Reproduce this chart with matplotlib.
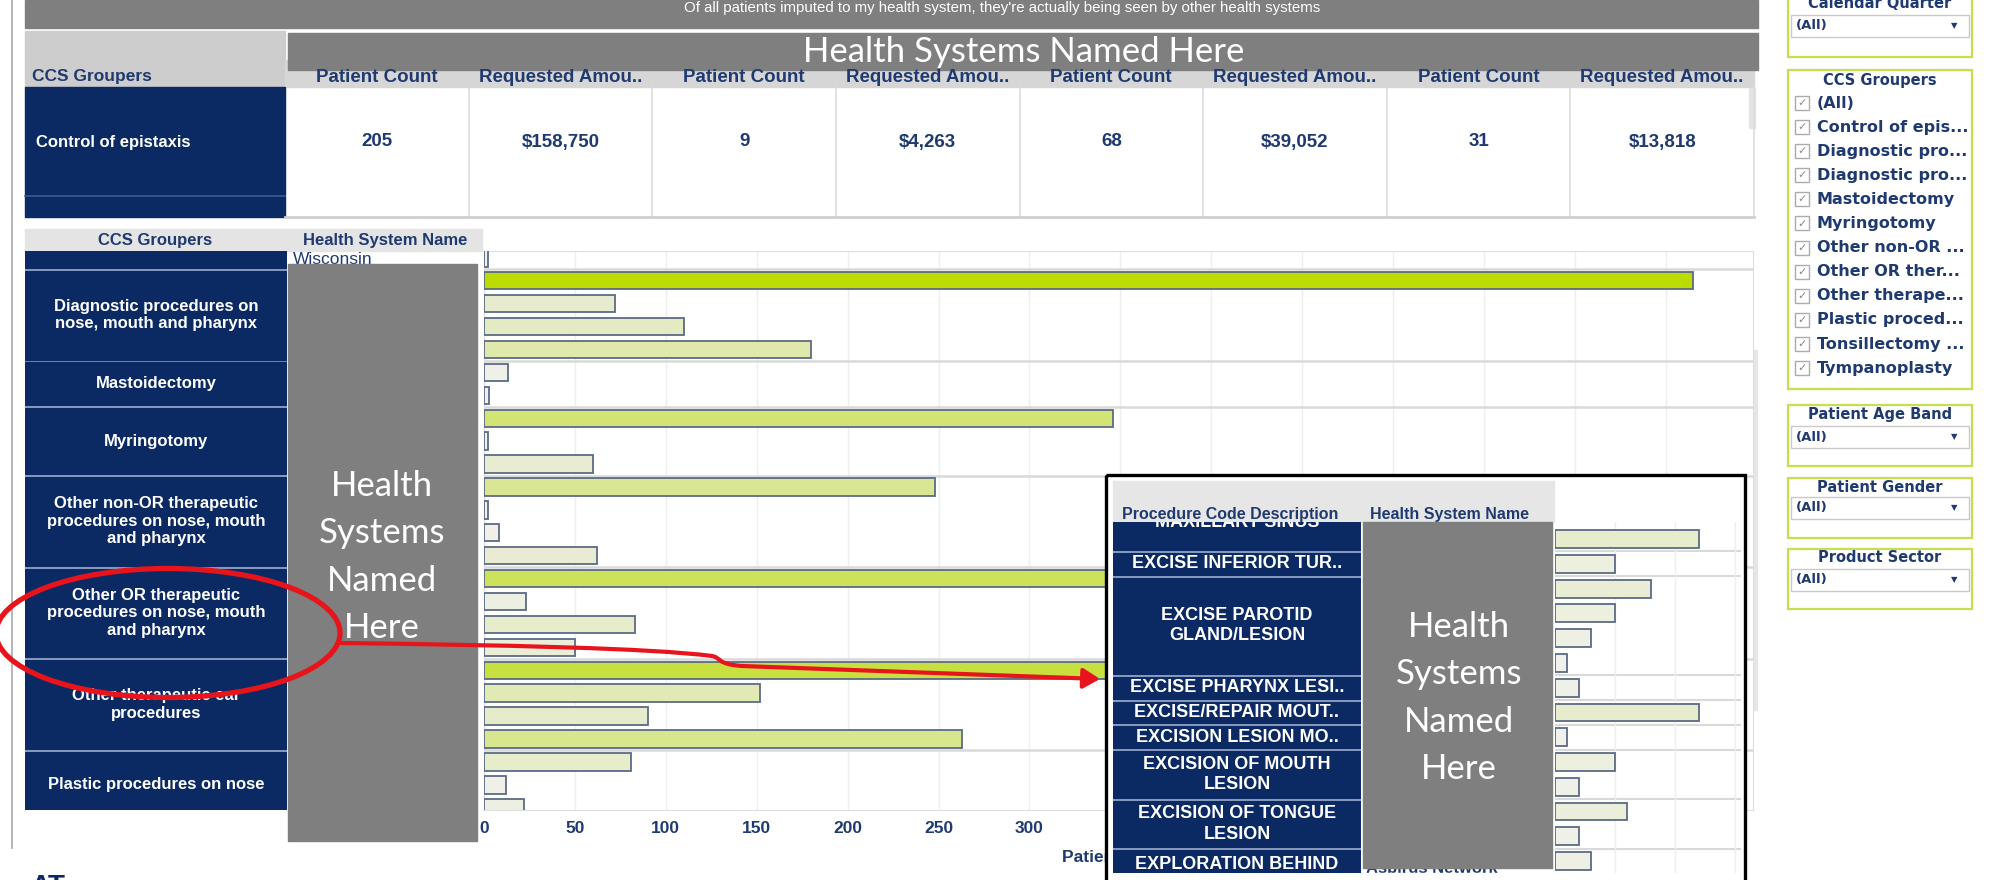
import numpy as np
import matplotlib
matplotlib.use("Agg")
import matplotlib.pyplot as plt
from matplotlib import font_manager
from matplotlib.patches import Rectangle, Ellipse, FancyArrowPatch
from matplotlib.path import Path
from matplotlib.colors import LinearSegmentedColormap, Normalize

W, H = 1998, 880

banner_text = "Of all patients imputed to my health system, they're actually being seen by other health systems"
overlay_text = "Health Systems Named Here"

# top summary table
top_group = "Control of epistaxis"
top_headers = ["Patient Count", "Requested Amou.."] * 4
top_patients = [205, 9, 68, 31]
top_amounts = [158750, 4263, 39052, 13818]

# main bar chart (only the tail of the first group is visible, so no label)
ccs_labels = ["", "Diagnostic procedures on\nnose, mouth and pharynx", "Mastoidectomy", "Myringotomy",
              "Other non-OR therapeutic\nprocedures on nose, mouth\nand pharynx",
              "Other OR therapeutic\nprocedures on nose, mouth\nand pharynx",
              "Other therapeutic ear\nprocedures", "Plastic procedures on nose"]
patient_counts = [[2], [665, 72, 110, 180], [13, 3], [346, 2, 60], [248, 2, 8, 62],
                  [420, 23, 83, 50], [500, 152, 90, 263], [81, 12, 22]]
x_ticks_shown = [0, 50, 100, 150, 200, 250, 300]
first_hs = "Wisconsin"

# zoomed procedure view
proc_labels = ["MAXILLARY SINUS", "EXCISE INFERIOR TUR..", "EXCISE PAROTID\nGLAND/LESION",
               "EXCISE PHARYNX LESI..", "EXCISE/REPAIR MOUT..", "EXCISION LESION MO..",
               "EXCISION OF MOUTH\nLESION", "EXCISION OF TONGUE\nLESION", "EXPLORATION BEHIND"]
proc_counts = [[12], [5], [8, 5, 3, 1], [2], [12], [1], [5, 2], [6, 2], [3]]
proc_hs_last = "Aspirus Network"

# filters
filter_titles = ["Calendar Quarter", "CCS Groupers", "Patient Age Band", "Patient Gender", "Product Sector"]
ccs_filter_items = ["(All)", "Control of epis...", "Diagnostic pro...", "Diagnostic pro...", "Mastoidectomy",
                    "Myringotomy", "Other non-OR ...", "Other OR ther...", "Other therape...",
                    "Plastic proced...", "Tonsillectomy ...", "Tympanoplasty"]

NAVY = "#0b2a63"
TXT = "#1f3a70"
GRAY = "#7f7f7f"
plt.rcParams["font.family"] = "Liberation Sans"
installed = {f.name for f in font_manager.fontManager.ttflist}
NARROW = "Liberation Sans Narrow" if "Liberation Sans Narrow" in installed else "Liberation Sans"
banner_size = 13 if NARROW != "Liberation Sans" else 10.8

cmap = LinearSegmentedColormap.from_list(
    "bars", [(0, "#f1f1ec"), (0.1, "#e8ecd0"), (0.3, "#dde8a6"), (0.5, "#d3e478"),
             (0.75, "#c8e040"), (1, "#bcdc00")])

fig = plt.figure(figsize=(W / 100, H / 100), dpi=100, facecolor="white")


def px_axes(x0, y0, x1, y1, **kw):
    return fig.add_axes([x0 / W, 1 - y1 / H, (x1 - x0) / W, (y1 - y0) / H], **kw)


ax_bg = fig.add_axes([0, 0, 1, 1], zorder=0)
ax_bg.set_xlim(0, W)
ax_bg.set_ylim(H, 0)
ax_bg.axis("off")

# left frame line and logo scrap at the bottom
ax_bg.plot([12, 12], [0, 848], color="#a9a9a9", lw=1.2)
ax_bg.text(30, 874, "AT", ha="left", va="top", fontsize=20, fontweight="bold", color=NAVY)

# banner
ax_bg.add_patch(Rectangle((25, 0), 1733, 28, color=GRAY))
ax_bg.text(1002, 12, banner_text, ha="center", va="baseline", fontsize=banner_size, color="white",
           family=NARROW)

# top table
ax_bg.add_patch(Rectangle((25, 31), 260, 56, color="#cdcdcd"))
ax_bg.add_patch(Rectangle((285, 60), 1469, 27, color="#d6d6d6"))
ax_bg.add_patch(Rectangle((288, 33), 1470, 37, color=GRAY))
ax_bg.text(1024, 52, overlay_text, ha="center", va="center", fontsize=25, color="white", family="Lato")
ax_bg.text(32, 77, "CCS Groupers", ha="left", va="center", fontsize=12.5, fontweight="bold", color=TXT)
edges = np.linspace(285, 1754, 9)
for i, h in enumerate(top_headers):
    ax_bg.text((edges[i] + edges[i + 1]) / 2, 77, h, ha="center", va="center",
               fontsize=13.5, fontweight="bold", color=TXT)
ax_bg.add_patch(Rectangle((25, 87), 260, 130, color=NAVY))
ax_bg.plot([25, 285], [196, 196], color="#3d5c93", lw=1.2)
ax_bg.text(36, 142, top_group, ha="left", va="center", fontsize=12, fontweight="bold", color="white")
for e in edges[1:]:
    ax_bg.plot([e, e], [87, 217], color="#dcdcdc", lw=1.2)
ax_bg.plot([285, 1754], [217, 217], color="#cfcfcf", lw=2)
cells = []
for p, a in zip(top_patients, top_amounts):
    cells += [f"{p:,}", f"${a:,}"]
for i, c in enumerate(cells):
    ax_bg.text((edges[i] + edges[i + 1]) / 2, 142, c, ha="center", va="center",
               fontsize=13.5, fontweight="bold", color=TXT)
ax_bg.add_patch(Rectangle((1749, 88), 6, 40, color="#e3e3e3"))

# second section header
ax_bg.add_patch(Rectangle((25, 229), 457, 22, color="#e4e4e4"))
ax_bg.text(155, 241, "CCS Groupers", ha="center", va="center", fontsize=12, fontweight="bold", color=TXT)
ax_bg.text(385, 241, "Health System Name", ha="center", va="center", fontsize=12, fontweight="bold", color=TXT)
ax_bg.text(293, 259, first_hs, ha="left", va="center", fontsize=12.5, color=TXT)
ax_bg.add_patch(Rectangle((1751, 350), 6, 360, color="#e6e6e6"))

# filter panel
px0, px1 = 1788, 1972
boxes = [(-5, 57), (70, 389), (405, 466), (478, 538), (549, 609)]
title_y = [3, 80, 415, 487, 558]
drop_y = {0: 26, 2: 437, 3: 508, 4: 580}
for k, (b0, b1) in enumerate(boxes):
    ax_bg.add_patch(Rectangle((px0, b0), px1 - px0, b1 - b0, fc="white", ec="#c5df4f", lw=1.6))
    ax_bg.text((px0 + px1) / 2, title_y[k], filter_titles[k], ha="center", va="center",
               fontsize=10.5, fontweight="bold", color=TXT, family="DejaVu Sans")
    if k in drop_y:
        yc = drop_y[k]
        ax_bg.add_patch(Rectangle((px0 + 3, yc - 11), px1 - px0 - 6, 22, fc="white", ec="#c9c9c9", lw=1))
        ax_bg.text(px0 + 8, yc, "(All)", ha="left", va="center", fontsize=9.5, fontweight="bold",
                   color=TXT, family="DejaVu Sans")
        ax_bg.text(px1 - 18, yc, "\u25bc", ha="center", va="center", fontsize=6, color=TXT, family="DejaVu Sans")
for k, item in enumerate(ccs_filter_items):
    yc = 103 + 24.1 * k
    ax_bg.add_patch(Rectangle((1795, yc - 7), 14, 14, fc="white", ec="#acacac", lw=1))
    ax_bg.text(1802, yc, "\u2713", ha="center", va="center", fontsize=8, color="#8a8a8a", family="DejaVu Sans")
    ax_bg.text(1817, yc, item, ha="left", va="center", fontsize=11.5, fontweight="bold",
               color=TXT, family="DejaVu Sans")

# main bar chart
vals = [v for grp in patient_counts for v in grp]
ypos = np.arange(len(vals))
sizes = np.array([len(g) for g in patient_counts])
bounds = np.concatenate([[0], np.cumsum(sizes)]) - 0.5

ax_bar = px_axes(484, 251, 1753, 810, zorder=1)
ax_bar.barh(ypos, vals, height=0.76, color=cmap(Normalize(0, 665)(vals)),
            edgecolor="#5b6b85", linewidth=1.3, zorder=3)
for b in bounds[1:-1]:
    ax_bar.axhline(b, color="#d9d9d9", lw=1.8, zorder=1)
ax_bar.set_xlim(0, 698)
ax_bar.set_ylim(24.1, -0.3)
ax_bar.set_xticks(np.arange(0, 698, 50), minor=True)
ax_bar.set_xticks(x_ticks_shown)
ax_bar.set_yticks([])
ax_bar.grid(axis="x", which="both", color="#eeeeee", lw=1, zorder=0)
ax_bar.set_axisbelow(True)
for s in ax_bar.spines.values():
    s.set_color("#dedede")
ax_bar.tick_params(axis="x", which="both", length=0, pad=8, labelsize=12.5, labelcolor=TXT)
for t in ax_bar.get_xticklabels():
    t.set_fontweight("bold")
ax_bar.set_xlabel("Patient Count", fontsize=12.5, fontweight="bold", color=TXT, labelpad=10)

ax_lab = px_axes(25, 251, 287, 810, zorder=1, sharey=ax_bar)
ax_lab.axis("off")
ax_lab.set_xlim(0, 1)
ax_lab.add_patch(Rectangle((0, 0), 1, 1, transform=ax_lab.transAxes, color="#a3b3d1"))
for i, lab in enumerate(ccs_labels):
    lo, hi = bounds[i], bounds[i + 1]
    if i == 0:
        lo -= 2
    ax_lab.add_patch(Rectangle((0, lo + 0.06), 1, hi - lo - 0.12, color=NAVY))
    ax_lab.text(0.5, (bounds[i] + bounds[i + 1]) / 2, lab, ha="center", va="center", fontsize=12,
                fontweight="bold", color="white", linespacing=1.22, clip_on=True)

# overlay layer
ax_ov = fig.add_axes([0, 0, 1, 1], zorder=2)
ax_ov.set_xlim(0, W)
ax_ov.set_ylim(H, 0)
ax_ov.axis("off")
ax_ov.add_patch(Rectangle((288, 264), 189, 577, color=GRAY, zorder=3))
ax_ov.text(382, 557, overlay_text.replace(" ", "\n"), ha="center", va="center", fontsize=25,
           color="white", family="Lato", linespacing=1.58, zorder=4)

# inset
ax_ov.add_patch(Rectangle((1106, 475), 639, 420, color="white", zorder=1))
ax_ov.add_patch(Rectangle((1113, 481), 441, 41, color="#e6e6e6", zorder=2))
ax_ov.text(1122, 515, "Procedure Code Description", ha="left", va="center", fontsize=11.5,
           fontweight="bold", color=TXT, zorder=2)
ax_ov.text(1370, 515, "Health System Name", ha="left", va="center", fontsize=11.5,
           fontweight="bold", color=TXT, zorder=2)
ax_ov.text(1366, 869, proc_hs_last, ha="left", va="center", fontsize=12, fontweight="bold",
           color=TXT, zorder=2)
ax_ov.add_patch(Rectangle((1363, 522), 189, 346, color=GRAY, zorder=3))
ax_ov.text(1459, 698, overlay_text.replace(" ", "\n"), ha="center", va="center", fontsize=25,
           color="white", family="Lato", linespacing=1.58, zorder=4)
ax_ov.add_patch(Rectangle((1108, 873), 635, 10, color="white", zorder=5))

# red callout
ax_ov.add_patch(Ellipse((168, 633), 344, 129, fill=False, ec="#e8141b", lw=3.8, zorder=6))
verts = [(341, 643), (500, 645), (650, 648), (712, 656), (722, 658), (716, 664), (742, 666), (1100, 679)]
codes = [Path.MOVETO, Path.CURVE4, Path.CURVE4, Path.CURVE4, Path.CURVE4, Path.CURVE4, Path.CURVE4, Path.LINETO]
ax_ov.add_patch(FancyArrowPatch(path=Path(verts, codes), arrowstyle="-|>,head_length=0.5,head_width=0.3",
                                mutation_scale=20, color="#e8141b", lw=3, zorder=6))

pvals = [v for grp in proc_counts for v in grp]
pypos = np.arange(len(pvals))
psizes = np.array([len(g) for g in proc_counts])
pbounds = np.concatenate([[0], np.cumsum(psizes)]) - 0.5

ax_in = px_axes(1555, 522, 1741, 873, zorder=3)
ax_in.patch.set_visible(False)
ax_in.barh(pypos, pvals, height=0.72, color=cmap(Normalize(0, 100)(pvals)),
           edgecolor="#5b6b85", linewidth=1.3, zorder=3)
for b in pbounds[1:-1]:
    ax_in.axhline(b, color="#d9d9d9", lw=1.5, zorder=1)
ax_in.set_xlim(0, 15.5)
ax_in.set_ylim(13.48, -0.69)
ax_in.set_xticks([5, 10, 15])
ax_in.set_yticks([])
ax_in.grid(axis="x", color="#eeeeee", lw=1, zorder=0)
ax_in.tick_params(axis="x", length=0, labelbottom=False)
for s in ax_in.spines.values():
    s.set_visible(False)

ax_inl = px_axes(1113, 522, 1361, 873, zorder=3, sharey=ax_in)
ax_inl.axis("off")
ax_inl.set_xlim(0, 1)
ax_inl.add_patch(Rectangle((0, 0), 1, 1, transform=ax_inl.transAxes, color="#a3b3d1"))
label_y = {0: -0.68, len(proc_labels) - 1: 13.12}
for i, lab in enumerate(proc_labels):
    lo, hi = pbounds[i], pbounds[i + 1]
    if i == 0:
        lo -= 2
    if i == len(proc_labels) - 1:
        hi += 2
    ax_inl.add_patch(Rectangle((0, lo + 0.06), 1, hi - lo - 0.12, color=NAVY))
    ax_inl.text(0.5, label_y.get(i, (pbounds[i] + pbounds[i + 1]) / 2), lab, ha="center", va="center",
                fontsize=13, fontweight="bold", color="white", linespacing=1.25, clip_on=True)

ax_top = fig.add_axes([0, 0, 1, 1], zorder=4)
ax_top.set_xlim(0, W)
ax_top.set_ylim(H, 0)
ax_top.axis("off")
ax_top.add_patch(Rectangle((1106, 475), 639, 420, fill=False, ec="black", lw=2.4))

fig.savefig("out.png", dpi=100, facecolor="white")
